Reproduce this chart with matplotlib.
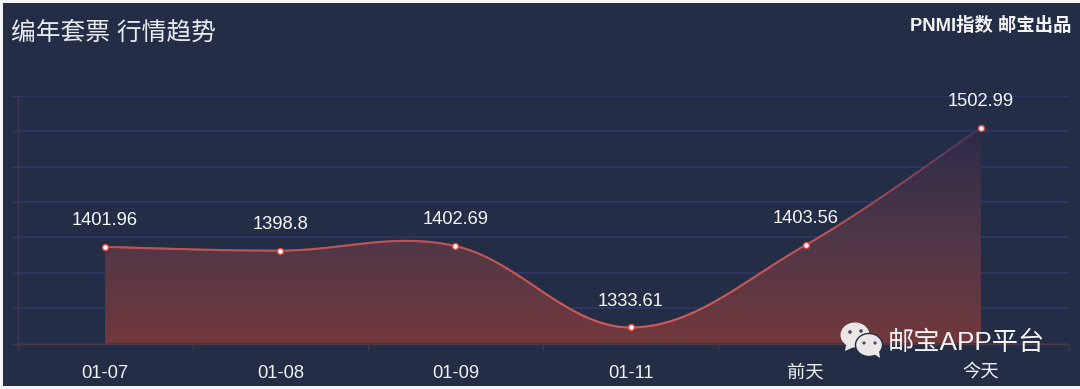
import numpy as np
import matplotlib
matplotlib.use("Agg")
import matplotlib.pyplot as plt
from matplotlib.path import Path
from matplotlib.patches import PathPatch, Rectangle, Ellipse, Polygon
from matplotlib.collections import LineCollection
from matplotlib.colors import LinearSegmentedColormap
from matplotlib.transforms import IdentityTransform

categories = ["01-07", "01-08", "01-09", "01-11", "前天", "今天"]
values = [1401.96, 1398.8, 1402.69, 1333.61, 1403.56, 1502.99]
value_labels = ["1401.96", "1398.8", "1402.69", "1333.61", "1403.56", "1502.99"]
y_ticks = [1320, 1350, 1380, 1410, 1440, 1470, 1500, 1530]
title = "编年套票 行情趋势"
credit = "PNMI指数 邮宝出品"
watermark = "邮宝APP平台"

W, H = 1080, 389
BG = "#232d46"
FONT = ["Liberation Sans", "Noto Sans CJK SC", "DejaVu Sans"]
plt.rcParams["font.family"] = FONT

fig = plt.figure(figsize=(W / 100, H / 100), dpi=100, facecolor="#f4f5f7")
fig.patches.append(Rectangle((3 / W, 3 / H), 1 - 3 / W, 383 / H, transform=fig.transFigure,
                             facecolor=BG, edgecolor="none", zorder=-5))

ax = fig.add_axes([17.5 / W, (H - 343.5) / H, 1051 / W, 247.5 / H])
ax.patch.set_visible(False)
ax.set_xlim(-0.5, 5.5)
ax.set_ylim(y_ticks[0], y_ticks[-1])
for s in ["top", "right"]:
    ax.spines[s].set_visible(False)
ax.spines["left"].set_color("#3a3a52")
ax.spines["bottom"].set_color("#4a3a48")
ax.spines["left"].set_linewidth(1)
ax.spines["bottom"].set_linewidth(1)
ax.set_yticks(y_ticks)
ax.set_yticklabels([])
ax.tick_params(axis="y", length=4, color="#3a3a52", width=1)
ax.set_xticks(np.arange(-0.5, 6, 1))
ax.set_xticklabels([])
ax.tick_params(axis="x", length=5, color="#3a3a4e", width=1)
ax.grid(axis="y", color="#2f3a6c", linewidth=1.1)
ax.set_axisbelow(True)

# smooth curve through the data (ECharts style control points)
x = np.arange(len(values), dtype=float)
y = np.array(values, dtype=float)
pts = np.column_stack([x, y])
smooth = 0.36
verts = [tuple(pts[0])]
codes = [Path.MOVETO]
for i in range(len(pts) - 1):
    prev = pts[max(i - 1, 0)]
    cur = pts[i]
    nxt = pts[i + 1]
    nn = pts[min(i + 2, len(pts) - 1)]
    c1 = cur + (nxt - prev) * smooth / 2
    c2 = nxt - (nn - cur) * smooth / 2
    verts += [tuple(c1), tuple(c2), tuple(nxt)]
    codes += [Path.CURVE4] * 3

# gradient area
fill_verts = verts + [(x[-1], y_ticks[0]), (x[0], y_ticks[0]), (x[0], verts[0][1]), (x[0], verts[0][1])]
fill_codes = codes + [Path.LINETO, Path.LINETO, Path.LINETO, Path.CLOSEPOLY]
clip = PathPatch(Path(fill_verts, fill_codes), facecolor="none", edgecolor="none", transform=ax.transData)
ax.add_patch(clip)
fill_cmap = LinearSegmentedColormap.from_list("f", ["#2c2b47", "#4e3748", "#72393c"])
im = ax.imshow(np.linspace(0, 1, 256).reshape(-1, 1), cmap=fill_cmap, aspect="auto",
               extent=(x[0], x[-1], y_ticks[0], y.max()), origin="upper", zorder=2)
im.set_clip_path(clip)
ax.set_xlim(-0.5, 5.5)
ax.set_ylim(y_ticks[0], y_ticks[-1])

# line, fading toward the top
t = np.linspace(0, 1, 60)
samples = []
for i in range(0, len(verts) - 1, 3):
    p0, p1, p2, p3 = [np.array(v) for v in verts[i:i + 4]]
    samples.append(np.outer((1 - t) ** 3, p0) + np.outer(3 * (1 - t) ** 2 * t, p1)
                   + np.outer(3 * (1 - t) * t ** 2, p2) + np.outer(t ** 3, p3))
samples = np.vstack(samples)
segs = np.stack([samples[:-1], samples[1:]], axis=1)
line_cmap = LinearSegmentedColormap.from_list("l", ["#cf5a58", "#b85256", "#443360"])
lc = LineCollection(segs, cmap=line_cmap, linewidths=1.5, zorder=3, capstyle="round")
lc.set_array((samples[:-1, 1] - y.min()) / (y.max() - y.min()))
ax.add_collection(lc)

ax.plot(x, y, ls="none", marker="o", ms=4.4, mfc="#fff4f0", mec="#d8474a", mew=1.0, zorder=4)

for xi, yi, lab in zip(x, y, value_labels):
    ax.annotate(lab, (xi, yi), xytext=(0, 19), textcoords="offset points", ha="center", va="center",
                color="#f6f7f8", fontsize=13.2, zorder=5)

for xi, lab in zip(x, categories):
    ax.annotate(lab, (xi, y_ticks[0]), xytext=(0, -21.5), textcoords="offset points", ha="center", va="center",
                color="#f0f2f4", fontsize=13.2, zorder=5)

fig.text(11 / W, 1 - 33 / H, title, color="#e9ebee", fontsize=17.8, ha="left", va="center")
fig.text(1072 / W, 1 - 26 / H, credit, color="#f4f5f7", fontsize=13.2, fontweight="bold", ha="right", va="center")

# WeChat-style watermark, in pixel coordinates
def px(a, b):
    return a, H - b

tf = IdentityTransform()
wm = "#ebe7e7"
def add(p):
    p.set_zorder(8)
    fig.add_artist(p)

add(Ellipse(px(855, 335), 29, 25, facecolor=wm, edgecolor="none", transform=tf))
add(Polygon([px(846, 345), px(845, 351), px(854, 347)], facecolor=wm, edgecolor="none", transform=tf))
add(Ellipse(px(869, 345), 27, 23, facecolor=wm, edgecolor=BG, linewidth=1.0, transform=tf))
add(Polygon([px(874, 354), px(880, 358), px(879, 351)], facecolor=wm, edgecolor="none", transform=tf))
for cx, cy, r in [(850, 332, 3.6), (861, 331, 3.6), (864, 343, 3.2), (875, 343, 3.2)]:
    add(Ellipse(px(cx, cy), r, r, facecolor="#4a4650", edgecolor="none", transform=tf))

fig.text(888 / W, 1 - 343 / H, watermark, color="#f5f5f6", fontsize=18.9, ha="left", va="center", zorder=9)

fig.savefig("out.png", dpi=100, facecolor=fig.get_facecolor())
